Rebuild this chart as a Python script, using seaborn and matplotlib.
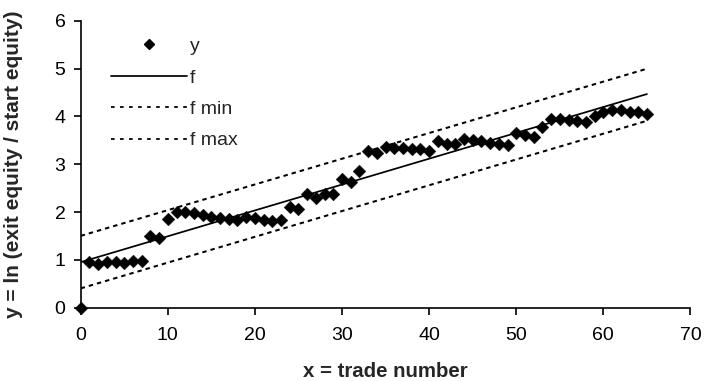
import matplotlib
matplotlib.use("Agg")
import matplotlib.pyplot as plt
import seaborn as sns
import pandas as pd
from matplotlib.lines import Line2D

trade = list(range(0, 66))
y_vals = [0.00, 0.95, 0.92, 0.95, 0.95, 0.93, 0.97, 0.97, 1.49, 1.45,
          1.85, 2.00, 2.00, 1.98, 1.93, 1.89, 1.87, 1.85, 1.83, 1.90,
          1.87, 1.83, 1.81, 1.83, 2.10, 2.06, 2.37, 2.30, 2.37, 2.37,
          2.69, 2.62, 2.86, 3.28, 3.24, 3.37, 3.35, 3.35, 3.31, 3.31,
          3.28, 3.49, 3.42, 3.42, 3.52, 3.50, 3.48, 3.45, 3.43, 3.41,
          3.66, 3.61, 3.58, 3.78, 3.94, 3.94, 3.92, 3.91, 3.88, 4.02,
          4.10, 4.14, 4.13, 4.10, 4.09, 4.06]
fit_x = [0, 65]
f_vals = [0.95, 4.47]
fmin_vals = [0.40, 3.91]
fmax_vals = [1.50, 5.00]
x_ticks = [0, 10, 20, 30, 40, 50, 60, 70]
y_ticks = [0, 1, 2, 3, 4, 5, 6]

sns.set_style("ticks")
plt.rcParams['font.family'] = ['Liberation Sans', 'DejaVu Sans']
FS = 14

fig = plt.figure(figsize=(7.04, 3.81), dpi=100)
ax = fig.add_axes([0.1146, 0.1929, 0.9808 - 0.1146, 0.9449 - 0.1929])

pts = pd.DataFrame({"x": trade, "y": y_vals})
fit = pd.DataFrame({"x": fit_x, "f": f_vals, "fmin": fmin_vals, "fmax": fmax_vals})

dash = (2.2, 2.0)
sns.lineplot(data=fit, x="x", y="fmin", ax=ax, color="black", lw=1.45,
             estimator=None)
sns.lineplot(data=fit, x="x", y="fmax", ax=ax, color="black", lw=1.45,
             estimator=None)
for ln in ax.lines:
    ln.set_dashes(dash)
sns.lineplot(data=fit, x="x", y="f", ax=ax, color="black", lw=1.25,
             estimator=None)
sns.scatterplot(data=pts, x="x", y="y", ax=ax, marker="D", s=42,
                color="black", edgecolor="black", linewidth=0.3,
                clip_on=False, zorder=5)

ax.set_xlim(0, 70)
ax.set_ylim(0, 6)
ax.set_xticks(x_ticks)
ax.set_yticks(y_ticks)
ax.tick_params(axis="both", labelsize=FS, length=5, width=1.2, color="black",
               labelcolor="black", direction="out")
ax.tick_params(axis="x", pad=9)
ax.tick_params(axis="y", pad=6)
for s in ["left", "bottom"]:
    ax.spines[s].set_linewidth(1.2)
    ax.spines[s].set_color("black")
sns.despine(ax=ax)

ax.set_xlabel("x = trade number", fontsize=14.7, fontweight="bold")
ax.set_ylabel("y = ln (exit equity / start equity)", fontsize=15,
              fontweight="bold")
ax.xaxis.set_label_coords(0.5, -0.19)
ax.yaxis.set_label_coords(-0.094, 0.50)

handles = [
    Line2D([], [], ls="none", marker="D", ms=5.6, color="black"),
    Line2D([], [], color="black", lw=1.25),
    Line2D([], [], color="black", lw=1.3, dashes=(2.0, 3.0)),
    Line2D([], [], color="black", lw=1.3, dashes=(2.0, 3.0)),
]
ax.legend(handles, ["y", "f", "f min", "f max"], loc="upper left",
          bbox_to_anchor=(0.05, 0.942), frameon=False, fontsize=FS,
          handlelength=3.9, handletextpad=0.15, labelspacing=0.71,
          borderaxespad=0.0, borderpad=0.0)

fig.savefig("out.png", dpi=100)
